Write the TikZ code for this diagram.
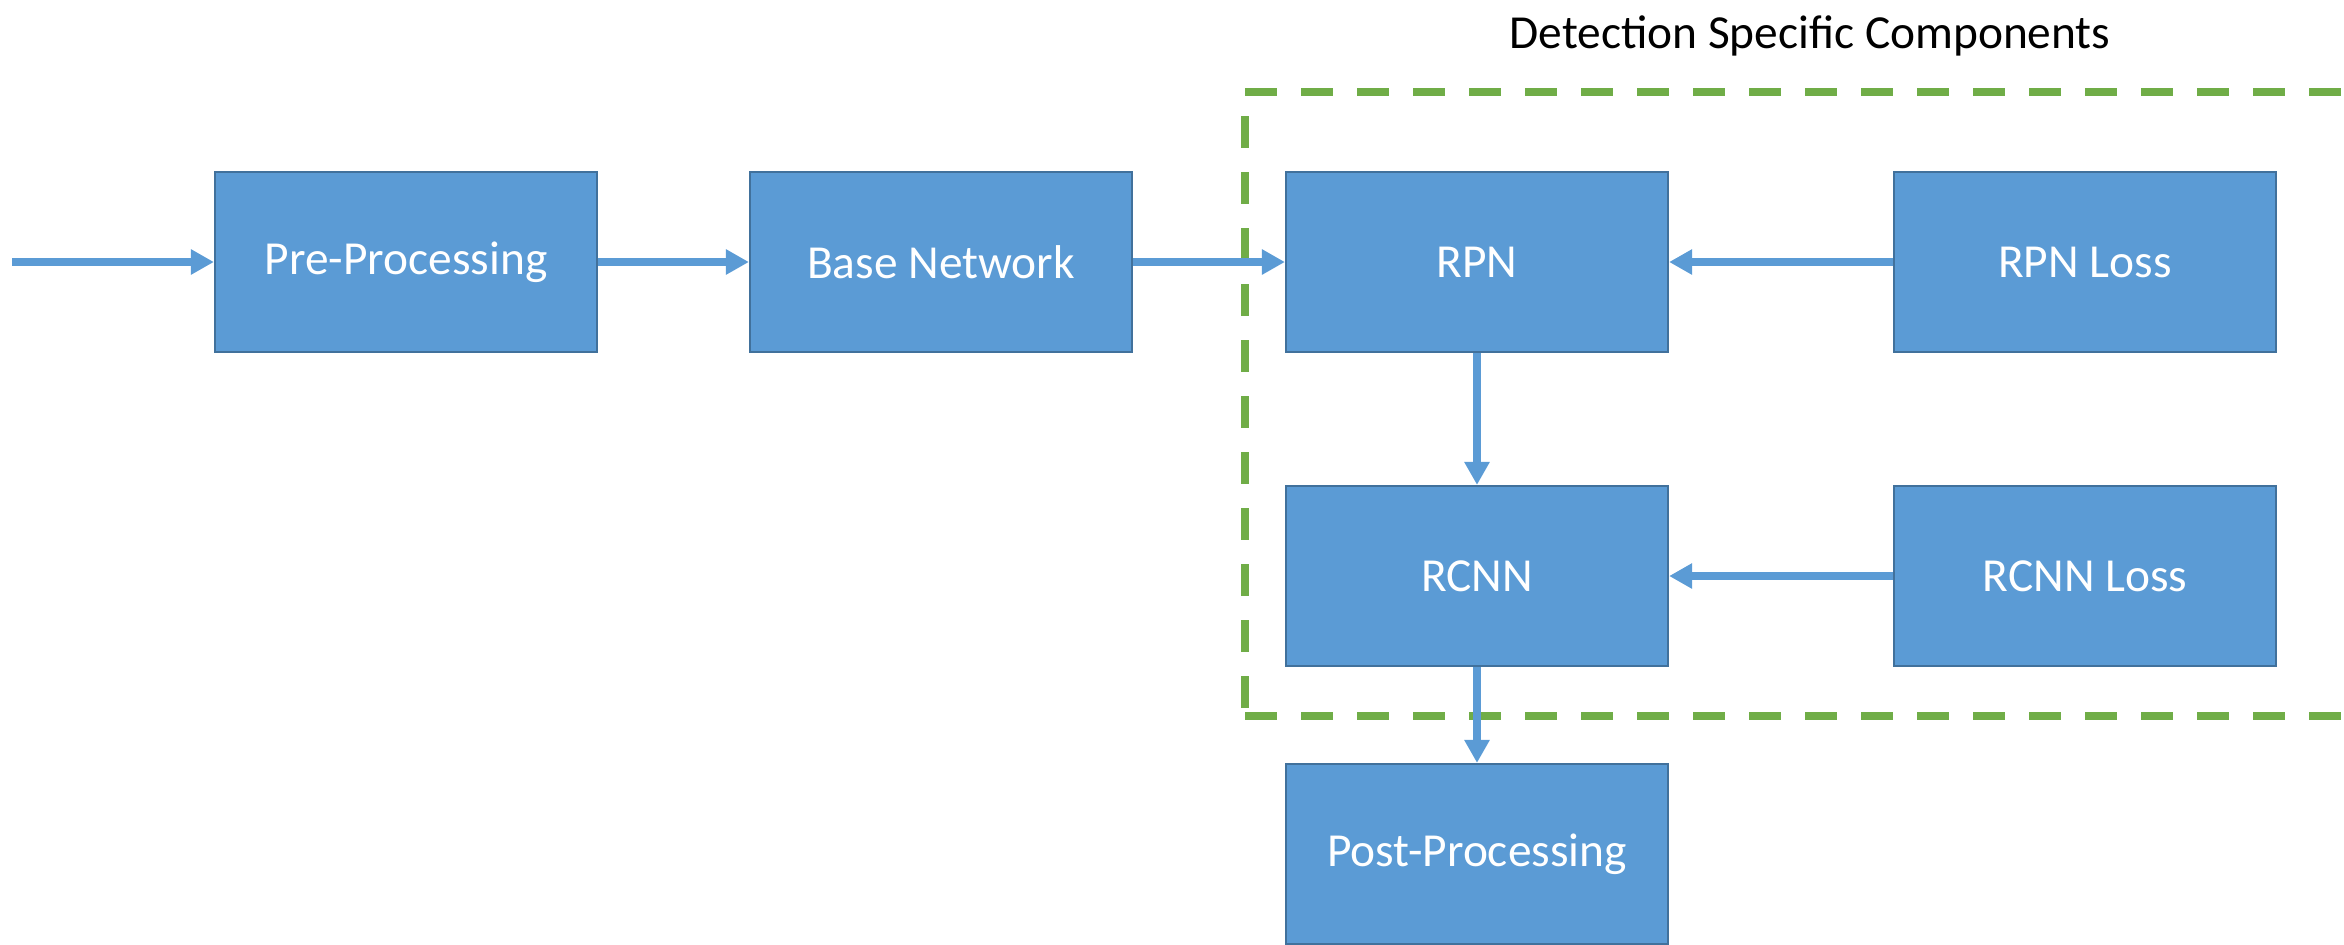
\documentclass[tikz,border=0pt]{standalone}
\usepackage{fontspec}
\setmainfont{Carlito}
\usepackage{xcolor}
\usetikzlibrary{arrows.meta}
\definecolor{boxfill}{HTML}{5B9BD5}
\definecolor{boxline}{HTML}{41719C}
\definecolor{detgreen}{HTML}{70AD47}

\begin{document}
\begin{tikzpicture}[x=0.5pt,y=-0.5pt,
    block/.style={draw=boxline,fill=boxfill,line width=1.1pt,minimum width=191pt,minimum height=90pt,inner sep=0pt,text=white,font=\fontsize{23.7}{28}\selectfont},
    arr/.style={draw=boxfill,line width=4pt,-{Triangle[length=11.5pt,width=12pt]}},
    detbox/.style={draw=detgreen,line width=4.3pt,dash pattern=on 16pt off 12pt}]
    \useasboundingbox (0,0) rectangle (2344,944);
    % dashed frame round the detection part
    \draw[detbox] (1245,92) -- (2400,92);
    \draw[detbox] (1245,716) -- (2400,716);
    \draw[detbox,dash phase=16pt] (1245,92) -- (1245,716);
    \node[font=\fontsize{23.7}{28}\selectfont] (title) at (1810,36) {Detection Specific Components};
    % blocks
    \node[block] (pre) at (406,262) {Pre-Processing};
    \node[block] (base) at (941,262) {Base Network};
    \node[block] (rpn) at (1477,262) {RPN};
    \node[block] (rpnloss) at (2085,262) {RPN Loss};
    \node[block] (rcnn) at (1477,576) {RCNN};
    \node[block] (rcnnloss) at (2085,576) {RCNN Loss};
    \node[block] (post) at (1477,854) {Post-Processing};
    % arrows
    \coordinate (in) at (12,262);
    \draw[arr] (in) -- (pre);
    \draw[arr] (pre) -- (base);
    \draw[arr] (base) -- (rpn);
    \draw[arr] (rpnloss) -- (rpn);
    \draw[arr] (rpn) -- (rcnn);
    \draw[arr] (rcnnloss) -- (rcnn);
    \draw[arr] (rcnn) -- (post);
\end{tikzpicture}
\end{document}
